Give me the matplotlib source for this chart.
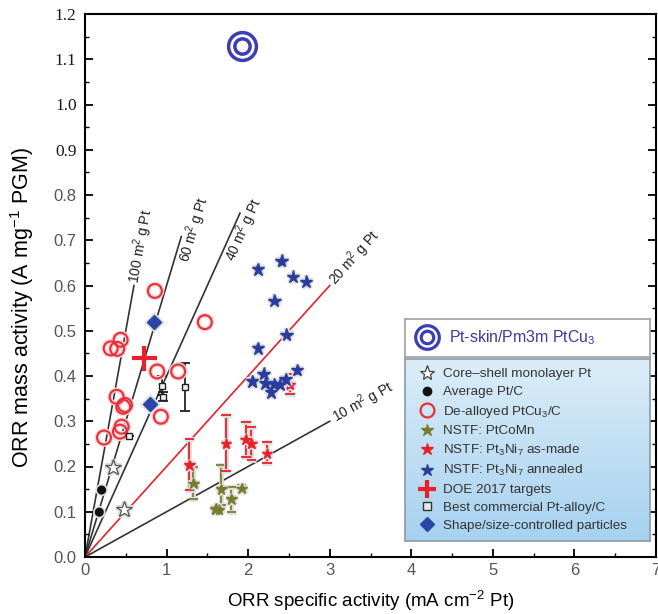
import numpy as np
import matplotlib
matplotlib.use("Agg")
import matplotlib.pyplot as plt
import matplotlib.patheffects as pe
from matplotlib.lines import Line2D
from matplotlib.legend_handler import HandlerTuple
from matplotlib.colors import LinearSegmentedColormap

plt.rcParams['font.family'] = ['Liberation Sans', 'DejaVu Sans']
plt.rcParams['mathtext.fontset'] = 'custom'
plt.rcParams['mathtext.rm'] = 'Liberation Sans'
plt.rcParams['mathtext.it'] = 'Liberation Sans:italic'
plt.rcParams['mathtext.bf'] = 'Liberation Sans:bold'

#-----------------------------------------
# Data (x: mA/cm2, y: A/mg)
#-----------------------------------------
ptskin_x = [1.92]
ptskin_y = [1.13]

core_shell_x = [0.346, 0.481]
core_shell_y = [0.198, 0.105]

avg_ptc_x = [0.204, 0.175]
avg_ptc_y = [0.148, 0.099]

dealloy_x = [0.857, 1.469, 0.315, 0.395, 0.437, 0.885, 1.142, 0.388, 0.469, 0.490, 0.930, 0.449, 0.428, 0.233]
dealloy_y = [0.588, 0.519, 0.461, 0.460, 0.480, 0.410, 0.410, 0.354, 0.332, 0.336, 0.310, 0.288, 0.277, 0.264]

ptcomn_x = [1.33, 1.67, 1.60, 1.64, 1.795, 1.92]
ptcomn_y = [0.163, 0.150, 0.106, 0.104, 0.128, 0.152]
ptcomn_lo = [0.035, 0.035, 0.0, 0.0, 0.028, 0.007]
ptcomn_hi = [0.037, 0.053, 0.0, 0.0, 0.026, 0.007]

made_x = [1.28, 1.73, 1.97, 2.04, 2.23, 2.51]
made_y = [0.203, 0.251, 0.260, 0.251, 0.229, 0.381]
made_lo = [0.055, 0.062, 0.038, 0.037, 0.022, 0.021]
made_hi = [0.057, 0.063, 0.039, 0.037, 0.026, 0.023]

anneal_x = [2.41, 2.12, 2.55, 2.71, 2.32, 2.47, 2.12, 2.60, 2.05, 2.19, 2.21, 2.32, 2.39, 2.46, 2.28]
anneal_y = [0.654, 0.636, 0.619, 0.608, 0.566, 0.491, 0.461, 0.413, 0.388, 0.405, 0.384, 0.382, 0.381, 0.393, 0.364]

doe_x = [0.72]
doe_y = [0.44]

comm_x = [0.94, 0.96, 1.23, 0.545]
comm_y = [0.379, 0.354, 0.376, 0.268]
comm_err = [0.02, 0.01, 0.053, 0.0]

shape_x = [0.845, 0.80]
shape_y = [0.519, 0.338]

# Pt surface area guide lines (m2/g Pt) and where each stops on x
ecsa = [100, 60, 40, 20, 10]
ecsa_end = [0.6, 1.18, 1.9, 3.0, 3.0]
ecsa_label_x = [0.605, 1.10, 1.66, 3.03, 3.05]
ecsa_label_va = ['center', 'top', 'top', 'center', 'center']
ecsa_color = ['#333333', '#333333', '#333333', '#e8202a', '#333333']

xticks = [0, 1, 2, 3, 4, 5, 6, 7]
yticks = [0.0, 0.1, 0.2, 0.3, 0.4, 0.5, 0.6, 0.7, 0.8, 0.9, 1.0, 1.1, 1.2]

#-----------------------------------------
# Figure
#-----------------------------------------
fig = plt.figure(figsize=(6.58, 6.14), dpi=100)
ax = fig.add_axes([85/658, 57/614, 571/658, 543/614])

glow = [pe.Stroke(linewidth=3.5, foreground='#dedede'), pe.Normal()]
pink_glow = [pe.Stroke(linewidth=3.5, foreground='#f6d3d5'), pe.Normal()]

for a, xe, xl, va, c in zip(ecsa, ecsa_end, ecsa_label_x, ecsa_label_va, ecsa_color):
    k = a / 100.0
    ax.plot([0, xe], [0, k * xe], color=c, lw=1.2, zorder=1)
    ax.text(xl, k * xl, '%d m$^2$ g Pt' % a, fontsize=10, color='#222222',
            rotation=np.degrees(np.arctan(k)), transform_rotates_text=True,
            rotation_mode='anchor', ha='left', va=va, zorder=2)

# error bars
eb = ax.errorbar(ptcomn_x, ptcomn_y, yerr=[ptcomn_lo, ptcomn_hi], fmt='none',
                 ecolor='#7d7d35', elinewidth=1.3, capsize=3.5, capthick=1.3, zorder=3)
for art in list(eb.lines[1]) + list(eb.lines[2]):
    art.set_path_effects(glow)
eb = ax.errorbar(made_x, made_y, yerr=[made_lo, made_hi], fmt='none',
                 ecolor='#e8202a', elinewidth=1.3, capsize=3.5, capthick=1.3, zorder=3)
for art in list(eb.lines[1]) + list(eb.lines[2]):
    art.set_path_effects(glow)
eb = ax.errorbar(comm_x, comm_y, yerr=comm_err, fmt='none',
                 ecolor='#222222', elinewidth=1.3, capsize=3.5, capthick=1.3, zorder=3)

# markers
ax.plot(dealloy_x, dealloy_y, 'o', ms=10, mfc='none', mec='#e8303a', mew=1.5,
        path_effects=pink_glow, zorder=4)
ax.plot(core_shell_x, core_shell_y, '*', ms=12, mfc='white', mec='#555555', mew=0.9,
        path_effects=glow, zorder=4)
ax.plot(avg_ptc_x, avg_ptc_y, 'o', ms=5.5, color='#111111', path_effects=glow, zorder=4)
ax.plot(ptcomn_x, ptcomn_y, '*', ms=8, color='#787a2c', path_effects=glow, zorder=4)
ax.plot(made_x, made_y, '*', ms=8, color='#e8202a', path_effects=glow, zorder=4)
ax.plot(anneal_x, anneal_y, '*', ms=9.5, color='#2a3d9c', path_effects=glow, zorder=4)
ax.plot(comm_x, comm_y, 's', ms=5, mfc='#f2f2f2', mec='#222222', mew=1, zorder=4)
ax.plot(shape_x, shape_y, 'D', ms=7, color='#2b45a8', path_effects=glow, zorder=4)
ax.plot(doe_x, doe_y, '+', ms=18, mew=3, color='#e8202a', zorder=5)
ax.plot(ptskin_x, ptskin_y, 'o', ms=20, mfc='none', mec='#3d3db5', mew=2.5, zorder=4)
ax.plot(ptskin_x, ptskin_y, 'o', ms=11, mfc='none', mec='#3d3db5', mew=2.5, zorder=4)

#-----------------------------------------
# Axes styling
#-----------------------------------------
ax.set_xlim(0, 7)
ax.set_ylim(0, 1.2)
ax.set_xticks(xticks, labels=[str(t) for t in xticks])
ax.set_xticks(np.arange(0.5, 7, 1.0), minor=True)
ytick_labels = ['%.1f' % t for t in yticks]
ax.set_yticks(yticks, labels=ytick_labels)
ax.set_yticks(np.arange(0.05, 1.2, 0.1), minor=True)
ax.tick_params(which='major', direction='in', length=6, width=1.3, right=True,
               labelsize=12, labelcolor='#555555')
ax.tick_params(which='minor', direction='in', length=3, width=1.0, right=True)
ax.tick_params(axis='y', pad=6)
ax.tick_params(axis='x', pad=4)
for tick, val in zip(ax.yaxis.get_major_ticks(), yticks):
    if val >= 0.85:
        tick.label1.set_fontfamily('Liberation Serif')
        tick.label1.set_color('#1a1a1a')
        tick.label1.set_fontsize(12.5)
for s in ax.spines.values():
    s.set_linewidth(1.5)

ax.set_xlabel('ORR specific activity (mA cm$^{-2}$ Pt)', fontsize=13.5)
ax.xaxis.set_label_coords(0.5, -0.058)
ax.set_ylabel('ORR mass activity (A mg$^{-1}$ PGM)', fontsize=15.5)
ax.yaxis.set_label_coords(-0.086, 0.46)

#-----------------------------------------
# Legend (two boxes)
#-----------------------------------------
top_box = fig.add_axes([405/658, 1 - 357/614, 245/658, 38/614], zorder=3)
top_box.set_xticks([])
top_box.set_yticks([])
for s in top_box.spines.values():
    s.set_color('#a0a0a0')
    s.set_linewidth(1.2)

blue_box = fig.add_axes([405/658, 1 - 541/614, 245/658, 182/614], zorder=3)
grad = LinearSegmentedColormap.from_list('grad', ['#a6d1ef', '#dcedf8'])
blue_box.imshow(np.linspace(0, 1, 256).reshape(-1, 1), cmap=grad, aspect='auto',
                extent=[0, 1, 0, 1], origin='lower')
blue_box.set_xticks([])
blue_box.set_yticks([])
for s in blue_box.spines.values():
    s.set_color('#8a9aa6')
    s.set_linewidth(1.2)

outer = Line2D([], [], ls='none', marker='o', ms=17, mfc='none', mec='#3d3db5', mew=2.3)
inner = Line2D([], [], ls='none', marker='o', ms=9, mfc='none', mec='#3d3db5', mew=2.3)
leg_top = fig.legend([(outer, inner)], ['Pt-skin/Pm3m PtCu$_3$'],
                     handler_map={tuple: HandlerTuple(ndivide=1)},
                     loc='center left', bbox_to_anchor=(414/658, 1 - 338/614),
                     frameon=False, fontsize=11.4, handlelength=1.6, handletextpad=0.6,
                     borderpad=0, borderaxespad=0)
leg_top.get_texts()[0].set_color('#3a3aa8')
leg_top.set_zorder(6)

handles = [
    Line2D([], [], ls='none', marker='*', ms=11, mfc='white', mec='#444444', mew=0.9),
    Line2D([], [], ls='none', marker='o', ms=6, color='#111111'),
    Line2D([], [], ls='none', marker='o', ms=10, mfc='none', mec='#e8303a', mew=1.6),
    Line2D([], [], ls='none', marker='*', ms=9, color='#787a2c'),
    Line2D([], [], ls='none', marker='*', ms=9, color='#e8202a'),
    Line2D([], [], ls='none', marker='*', ms=9, color='#2a3d9c'),
    Line2D([], [], ls='none', marker='+', ms=13, mew=3, color='#e8202a'),
    Line2D([], [], ls='none', marker='s', ms=6, mfc='#e8e8e8', mec='#333333', mew=1),
    Line2D([], [], ls='none', marker='D', ms=7, color='#2b45a8'),
]
labels = [
    'Core\u2013shell monolayer Pt',
    'Average Pt/C',
    'De-alloyed PtCu$_3$/C',
    'NSTF: PtCoMn',
    'NSTF: Pt$_3$Ni$_7$ as-made',
    'NSTF: Pt$_3$Ni$_7$ annealed',
    'DOE 2017 targets',
    'Best commercial Pt-alloy/C',
    'Shape/size-controlled particles',
]
leg2 = fig.legend(handles, labels, loc='upper left', bbox_to_anchor=(419/658, 1 - 368/614),
                  frameon=False, fontsize=9.7, handlelength=1.2, handletextpad=0.6,
                  labelspacing=0.40, borderpad=0, borderaxespad=0)
for t in leg2.get_texts():
    t.set_color('#333333')
leg2.set_zorder(6)

fig.savefig('out.png', dpi=100)
